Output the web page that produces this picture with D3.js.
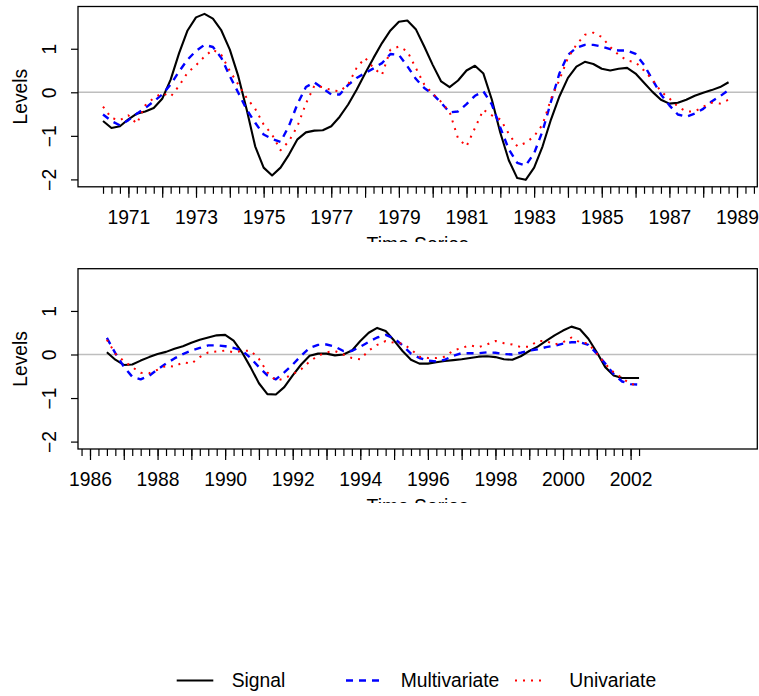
<!DOCTYPE html>
<html>
<head>
<meta charset="utf-8">
<script src="https://cdn.jsdelivr.net/npm/d3@7/dist/d3.min.js"></script>
<style>
  body { margin: 0; background: #fff; }
  svg { display: block; }
  text { font-family: "Liberation Sans", Arial, Helvetica, sans-serif; fill: #000; }
</style>
</head>
<body>
<svg id="chart" width="759" height="696"></svg>
<script>
// Quarterly series, first observation of each panel
const topStart = 1970.25;
const bottomStart = 1986.5;

// 1970Q2 - 1988Q4
const signalTop = [-0.66, -0.82, -0.78, -0.62, -0.49, -0.44, -0.36, -0.15, 0.29, 0.90,
  1.42, 1.72, 1.80, 1.69, 1.42, 0.98, 0.37, -0.40, -1.24, -1.73,
  -1.91, -1.73, -1.43, -1.08, -0.92, -0.88, -0.87, -0.78, -0.56, -0.28,
  0.06, 0.43, 0.79, 1.13, 1.42, 1.62, 1.65, 1.45, 1.05, 0.63,
  0.25, 0.12, 0.27, 0.50, 0.61, 0.43, -0.17, -0.93, -1.56, -1.97,
  -2.01, -1.73, -1.24, -0.62, -0.09, 0.33, 0.59, 0.70, 0.65, 0.54,
  0.50, 0.54, 0.56, 0.43, 0.22, 0.01, -0.17, -0.26, -0.24, -0.17,
  -0.08, -0.01, 0.05, 0.12, 0.23];
const multiTop = [-0.51, -0.66, -0.76, -0.64, -0.49, -0.36, -0.21, -0.05, 0.18, 0.48,
  0.75, 0.95, 1.09, 1.04, 0.79, 0.37, -0.01, -0.40, -0.70, -0.97,
  -1.07, -1.14, -0.77, -0.27, 0.12, 0.23, 0.09, -0.05, -0.05, 0.17,
  0.33, 0.44, 0.55, 0.67, 0.88, 0.86, 0.60, 0.31, 0.10, -0.04,
  -0.24, -0.46, -0.44, -0.27, -0.08, 0.02, -0.28, -0.81, -1.31, -1.62,
  -1.68, -1.40, -0.89, -0.21, 0.44, 0.86, 1.02, 1.09, 1.09, 1.05,
  0.99, 0.96, 0.96, 0.88, 0.63, 0.29, -0.05, -0.30, -0.51, -0.56,
  -0.49, -0.38, -0.21, -0.09, 0.05];
const univTop = [-0.33, -0.59, -0.64, -0.53, -0.72, -0.30, -0.13, -0.02, -0.10, 0.15,
  0.45, 0.62, 0.82, 0.98, 0.86, 0.49, 0.18, -0.13, -0.38, -0.74,
  -0.97, -1.33, -1.12, -0.78, -0.26, 0.15, 0.12, 0.05, 0.02, 0.18,
  0.56, 0.79, 0.56, 0.40, 0.98, 1.05, 0.94, 0.56, 0.18, -0.03,
  -0.22, -0.45, -1.06, -1.24, -0.82, -0.40, -0.53, -0.62, -0.95, -1.24,
  -1.16, -1.01, -0.74, -0.15, 0.29, 0.79, 1.09, 1.32, 1.37, 1.27,
  1.04, 0.86, 0.73, 0.69, 0.50, 0.29, 0.02, -0.14, -0.33, -0.44,
  -0.44, -0.33, -0.24, -0.26, -0.17];

// 1986Q3 - 2002Q2
const signalBottom = [0.05, -0.12, -0.24, -0.23, -0.14, -0.06, 0.01, 0.06, 0.13, 0.19,
  0.27, 0.34, 0.39, 0.44, 0.45, 0.32, 0.05, -0.29, -0.66, -0.91,
  -0.92, -0.75, -0.48, -0.23, -0.03, 0.02, 0.02, -0.02, 0.00, 0.09,
  0.31, 0.50, 0.61, 0.54, 0.32, 0.08, -0.12, -0.21, -0.21, -0.18,
  -0.15, -0.13, -0.11, -0.08, -0.05, -0.04, -0.06, -0.11, -0.12, -0.04,
  0.08, 0.18, 0.31, 0.44, 0.55, 0.64, 0.58, 0.36, 0.05, -0.29,
  -0.48, -0.54, -0.54, -0.54];
const multiBottom = [0.38, 0.03, -0.28, -0.51, -0.57, -0.49, -0.34, -0.21, -0.09, 0.01,
  0.09, 0.15, 0.21, 0.21, 0.19, 0.15, 0.09, -0.08, -0.29, -0.48,
  -0.57, -0.41, -0.23, -0.03, 0.15, 0.22, 0.23, 0.18, 0.08, 0.08,
  0.18, 0.29, 0.39, 0.45, 0.37, 0.21, 0.02, -0.08, -0.14, -0.16,
  -0.12, -0.03, 0.03, 0.03, 0.03, 0.05, 0.04, 0.01, 0.00, 0.04,
  0.09, 0.12, 0.17, 0.20, 0.25, 0.28, 0.28, 0.22, 0.02, -0.21,
  -0.45, -0.62, -0.68, -0.69];
const univBottom = [0.34, 0.02, -0.15, -0.29, -0.42, -0.43, -0.35, -0.26, -0.28, -0.18,
  -0.21, -0.06, 0.05, 0.07, 0.09, 0.05, 0.08, 0.09, -0.10, -0.41,
  -0.60, -0.55, -0.45, -0.34, -0.16, -0.03, 0.05, 0.08, 0.00, -0.08,
  -0.11, 0.09, 0.22, 0.31, 0.27, 0.25, 0.12, -0.05, -0.08, -0.08,
  -0.05, 0.09, 0.15, 0.21, 0.17, 0.23, 0.31, 0.26, 0.23, 0.17,
  0.18, 0.31, 0.31, 0.23, 0.28, 0.39, 0.28, 0.25, 0.02, -0.22,
  -0.41, -0.54, -0.68, -0.70];

// Axis ticks and labels
const topYearLabels = [1971, 1973, 1975, 1977, 1979, 1981, 1983, 1985, 1987, 1989];
const bottomYearLabels = [1986, 1988, 1990, 1992, 1994, 1996, 1998, 2000, 2002];
const levelTicks = [-2, -1, 0, 1];
const seriesNames = ["Signal", "Multivariate", "Univariate"];
const xTitle = "Time Series";
const yTitle = "Levels";

// Line styles for the three series
const styles = [
  { color: "#000000", width: 2.1, dash: null },
  { color: "#0000FF", width: 2.4, dash: "7,6" },
  { color: "#FF0000", width: 2, dash: "2,6" }
];

const svg = d3.select("#chart");
const FONT = 19.3;
const yDomain = [-2.17, 1.97];

const panels = [
  { box: { x0: 78, x1: 757.3, y0: 6.5, y1: 186.8 }, xDomain: [1969.51, 1989.6],
    tickRange: [1970.25, 1989.5], labels: topYearLabels, clipBottom: 242,
    start: topStart, series: [signalTop, multiTop, univTop], id: "top" },
  { box: { x0: 78, x1: 757.3, y0: 268.7, y1: 449 }, xDomain: [1985.645, 2005.75],
    tickRange: [1985.75, 2002.25], labels: bottomYearLabels, clipBottom: 503,
    start: bottomStart, series: [signalBottom, multiBottom, univBottom], id: "bottom" }
];

const fmtMinus = v => (v < 0 ? "\u2212" + Math.abs(v) : String(v));

panels.forEach(p => {
  const b = p.box;
  const x = d3.scaleLinear().domain(p.xDomain).range([b.x0, b.x1]);
  const y = d3.scaleLinear().domain(yDomain).range([b.y1, b.y0]);
  const g = svg.append("g");

  // quarterly ticks and yearly ticks
  const quarters = d3.range(Math.round(p.tickRange[0] * 4), Math.round(p.tickRange[1] * 4) + 1).map(q => q / 4);
  const years = quarters.filter(q => Number.isInteger(q));

  g.append("g")
    .attr("transform", `translate(0,${b.y1})`)
    .call(d3.axisBottom(x).tickValues(quarters).tickSize(7).tickFormat(""))
    .call(a => a.select(".domain").remove())
    .call(a => a.selectAll("line").attr("stroke", "#000").attr("stroke-width", 1.2));

  const yearAxis = g.append("g")
    .attr("transform", `translate(0,${b.y1})`)
    .call(d3.axisBottom(x).tickValues(years).tickSize(11)
      .tickFormat(v => p.labels.includes(v) ? String(v) : ""))
    .call(a => a.select(".domain").remove())
    .call(a => a.selectAll("line").attr("stroke", "#000").attr("stroke-width", 1.2));
  yearAxis.selectAll("text")
    .attr("y", 37.4).attr("dy", null)
    .attr("font-size", FONT).attr("font-family", null).attr("fill", "#000");

  // level axis with labels turned parallel to the axis
  const yAxis = g.append("g")
    .attr("transform", `translate(${b.x0},0)`)
    .call(d3.axisLeft(y).tickValues(levelTicks).tickSize(7).tickFormat(fmtMinus))
    .call(a => a.select(".domain").remove())
    .call(a => a.selectAll("line").attr("stroke", "#000").attr("stroke-width", 1.2));
  yAxis.selectAll("text")
    .attr("transform", "rotate(-90)")
    .attr("x", 0).attr("y", -22.5).attr("dy", null)
    .attr("text-anchor", "middle")
    .attr("font-size", FONT).attr("font-family", null).attr("fill", "#000");

  // reference line at zero
  g.append("line")
    .attr("x1", b.x0).attr("x2", b.x1)
    .attr("y1", y(0)).attr("y2", y(0))
    .attr("stroke", "#BEBEBE").attr("stroke-width", 1.4);

  // series
  const line = d3.line()
    .x((d, i) => x(p.start + i * 0.25))
    .y(d => y(d));
  p.series.forEach((vals, i) => {
    const s = styles[i];
    g.append("path")
      .datum(vals)
      .attr("d", line)
      .attr("fill", "none")
      .attr("stroke", s.color)
      .attr("stroke-width", s.width)
      .attr("stroke-dasharray", s.dash)
      .attr("stroke-linejoin", "round");
  });

  // frame
  g.append("rect")
    .attr("x", b.x0).attr("y", b.y0)
    .attr("width", b.x1 - b.x0).attr("height", b.y1 - b.y0)
    .attr("fill", "none").attr("stroke", "#000").attr("stroke-width", 1.3);

  // axis titles
  g.append("text")
    .attr("transform", `translate(26.5,${(b.y0 + b.y1) / 2}) rotate(-90)`)
    .attr("text-anchor", "middle")
    .attr("font-size", FONT)
    .text(yTitle);

  svg.append("clipPath").attr("id", "clip-" + p.id)
    .append("rect").attr("x", 0).attr("y", 0).attr("width", 759).attr("height", p.clipBottom);
  g.append("text")
    .attr("clip-path", `url(#clip-${p.id})`)
    .attr("x", (b.x0 + b.x1) / 2)
    .attr("y", b.y1 + 64)
    .attr("text-anchor", "middle")
    .attr("font-size", FONT)
    .text(xTitle);
});

// legend
const legendY = 680.5;
const legendItems = [
  { x1: 176.7, x2: 213.3, tx: 231.7 },
  { x1: 346, x2: 382.3, tx: 400.7 },
  { x1: 515, x2: 546.7, tx: 569.3 }
];
const legend = svg.append("g");
seriesNames.forEach((name, i) => {
  const s = styles[i], pos = legendItems[i];
  legend.append("line")
    .attr("x1", pos.x1).attr("x2", pos.x2)
    .attr("y1", legendY).attr("y2", legendY)
    .attr("stroke", s.color).attr("stroke-width", s.width)
    .attr("stroke-dasharray", s.dash);
  legend.append("text")
    .attr("x", pos.tx).attr("y", legendY)
    .attr("dy", "0.35em")
    .attr("font-size", FONT)
    .text(name);
});
</script>
</body>
</html>
